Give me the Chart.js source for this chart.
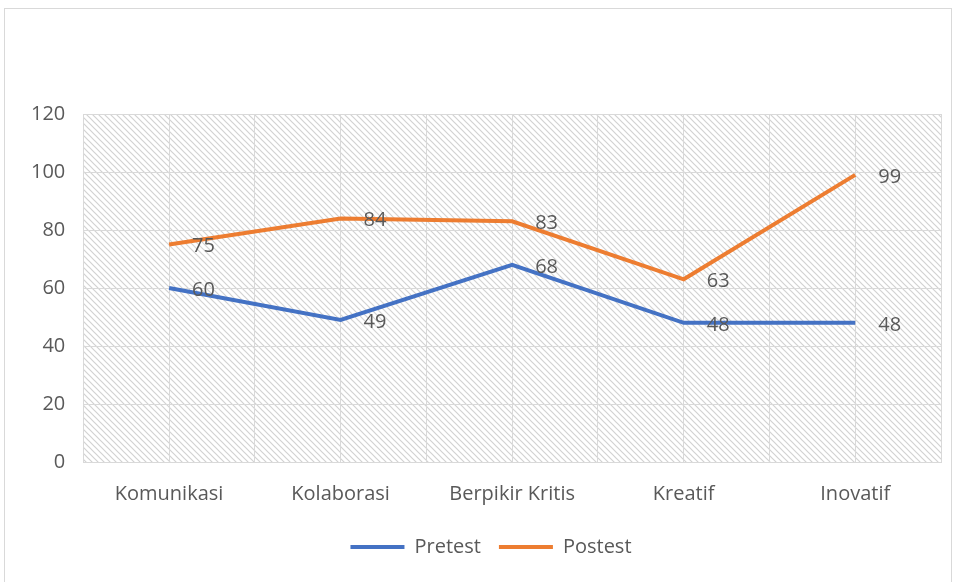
<!DOCTYPE html>
<html>
<head>
<meta charset="utf-8">
<script src="https://cdn.jsdelivr.net/npm/chart.js@4/dist/chart.umd.min.js"></script>
<style>
    body { margin: 0; background: #fff; overflow: hidden; }
    #box {
        position: absolute; left: 4px; top: 8px;
        width: 946px; height: 584px;
        border: 1px solid #d9d9d9;
    }
</style>
</head>
<body>
<div id="box"><canvas id="chartSkills" width="946" height="570"></canvas></div>
<script>
var categories = ["Komunikasi", "Kolaborasi", "Berpikir Kritis", "Kreatif", "Inovatif"];
var pretest = [60, 49, 68, 48, 48];
var postest = [75, 84, 83, 63, 99];
var yTicks = [0, 20, 40, 60, 80, 100, 120];

var textColor = "#595959";
var gridColor = "#d9d9d9";
var fontFamily = "'Open Sans', 'Noto Sans', sans-serif";
var fontSize = 20;

function makeHatch() {
    var tile = document.createElement("canvas");
    tile.width = 6;
    tile.height = 6;
    var c = tile.getContext("2d");
    c.strokeStyle = "#d2d2d2";
    c.lineWidth = 1.2;
    c.beginPath();
    c.moveTo(-1, -1); c.lineTo(7, 7);
    c.moveTo(-1, 5); c.lineTo(1, 7);
    c.moveTo(5, -1); c.lineTo(7, 1);
    c.stroke();
    return c.createPattern(tile, "repeat");
}

// hatched plot area
var plotBackground = {
    id: "plotBackground",
    afterLayout: function (chart) {
        // legend sits a bit right of centre in the original
        if (chart.legend) {
            chart.legend.left += 14;
            chart.legend.right += 14;
        }
    },
    beforeDraw: function (chart) {
        var ctx = chart.ctx;
        var a = chart.chartArea;
        ctx.save();
        ctx.fillStyle = makeHatch();
        ctx.fillRect(a.left, a.top, a.right - a.left, a.bottom - a.top);
        ctx.restore();
    }
};

// value labels to the right of each point
var valueLabels = {
    id: "valueLabels",
    afterDatasetsDraw: function (chart) {
        var ctx = chart.ctx;
        ctx.save();
        ctx.font = fontSize + "px " + fontFamily;
        ctx.fillStyle = textColor;
        ctx.textAlign = "left";
        ctx.textBaseline = "middle";
        chart.data.datasets.forEach(function (ds, i) {
            var meta = chart.getDatasetMeta(i);
            meta.data.forEach(function (pt, j) {
                ctx.fillText(String(ds.data[j]), pt.x + 23, pt.y + 2);
            });
        });
        ctx.restore();
    }
};

var ctx = document.getElementById("chartSkills");
var myChart = new Chart(ctx, {
    type: "line",
    data: {
        labels: categories,
        datasets: [{
            label: "Pretest",
            data: pretest,
            borderColor: "#4472C4",
            backgroundColor: "#4472C4",
            borderWidth: 4,
            pointRadius: 0,
            tension: 0
        }, {
            label: "Postest",
            data: postest,
            borderColor: "#ED7D31",
            backgroundColor: "#ED7D31",
            borderWidth: 4,
            pointRadius: 0,
            tension: 0
        }]
    },
    options: {
        responsive: false,
        animation: false,
        layout: { padding: { top: 105, left: 8, right: 10, bottom: 12 } },
        scales: {
            x: {
                offset: true,
                grid: { color: gridColor, offset: false, drawTicks: false },
                border: { color: gridColor },
                ticks: { color: textColor, font: { size: fontSize, family: fontFamily }, padding: 20 },
                afterFit: function (scale) { scale.height -= 7; }
            },
            x2: {
                labels: categories,
                offset: true,
                position: "bottom",
                grid: { color: gridColor, offset: true, drawTicks: false },
                border: { display: false },
                ticks: { display: false }
            },
            y: {
                min: 0,
                max: 120,
                afterBuildTicks: function (scale) {
                    scale.ticks = yTicks.map(function (v) { return { value: v }; });
                },
                grid: { color: gridColor, drawTicks: false },
                border: { display: false },
                ticks: { color: textColor, font: { size: fontSize, family: fontFamily }, padding: 18 }
            }
        },
        plugins: {
            legend: {
                position: "bottom",
                labels: {
                    color: textColor,
                    font: { size: fontSize, family: fontFamily },
                    boxWidth: 54,
                    boxHeight: 4,
                    padding: 18,
                    generateLabels: function (chart) {
                        var items = Chart.defaults.plugins.legend.labels.generateLabels(chart);
                        items.forEach(function (it) { it.lineWidth = 0; });
                        return items;
                    }
                }
            },
            tooltip: { enabled: false }
        }
    },
    plugins: [plotBackground, valueLabels]
});
</script>
</body>
</html>
